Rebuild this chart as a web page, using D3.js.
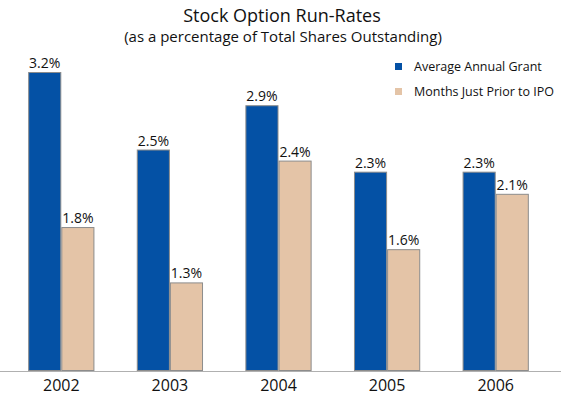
<!DOCTYPE html>
<html>
<head>
<meta charset="utf-8">
<script src="https://cdn.jsdelivr.net/npm/d3@7"></script>
<style>
  body { margin: 0; background: #fff; }
  svg { display: block; font-family: "Open Sans", sans-serif; }
</style>
</head>
<body>
<div id="chart"></div>
<script>
// data
const years = ['2002', '2003', '2004', '2005', '2006'];
const seriesNames = ['Average Annual Grant', 'Months Just Prior to IPO'];
const avgGrant = [3.2, 2.5, 2.9, 2.3, 2.3];
const priorIpo = [1.8, 1.3, 2.4, 1.6, 2.1];

const boxWidth = 561;
const boxHeight = 397;
const colors = ['#0451A5', '#E4C4A7'];

const svg = d3.select('#chart')
  .append('svg')
  .attr('width', boxWidth)
  .attr('height', boxHeight);

const baseY = 371;

// scales
const x0 = d3.scaleBand()
  .domain(years)
  .range([7, 550])
  .paddingInner(0.39)
  .paddingOuter(0.195);

const x1 = d3.scaleBand()
  .domain(seriesNames)
  .range([0, x0.bandwidth()]);

const y = d3.scaleLinear()
  .domain([0.5, 3.2])
  .range([baseY, 72]);

const rows = years.map((yr, i) => ({
  year: yr,
  vals: [
    { name: seriesNames[0], v: avgGrant[i] },
    { name: seriesNames[1], v: priorIpo[i] }
  ]
}));

// title
svg.append('text')
  .attr('x', 282).attr('y', 22)
  .attr('text-anchor', 'middle')
  .style('font-size', '18px')
  .attr('fill', '#111')
  .text('Stock Option Run-Rates');

svg.append('text')
  .attr('x', 283).attr('y', 42)
  .attr('text-anchor', 'middle')
  .style('font-size', '15px')
  .attr('fill', '#111')
  .text('(as a percentage of Total Shares Outstanding)');

// bars
const groups = svg.selectAll('g.grp')
  .data(rows)
  .enter()
  .append('g')
  .attr('class', 'grp')
  .attr('transform', d => `translate(${x0(d.year)}, 0)`);

groups.selectAll('rect')
  .data(d => d.vals)
  .enter()
  .append('rect')
  .attr('x', d => x1(d.name) + 0.5)
  .attr('y', d => y(d.v) + 0.5)
  .attr('width', x1.bandwidth() - 1)
  .attr('height', d => baseY - y(d.v) - 1)
  .attr('fill', (d, i) => colors[i])
  .attr('stroke', '#8c8c8c')
  .attr('stroke-width', 1);

groups.selectAll('text')
  .data(d => d.vals)
  .enter()
  .append('text')
  .attr('x', d => x1(d.name) + x1.bandwidth() / 2)
  .attr('y', d => y(d.v) - 4)
  .attr('text-anchor', 'middle')
  .style('font-size', '14px')
  .attr('fill', '#111')
  .text(d => d.v.toFixed(1) + '%');

// baseline
svg.append('line')
  .attr('x1', 0).attr('x2', boxWidth)
  .attr('y1', baseY + 0.5).attr('y2', baseY + 0.5)
  .attr('stroke', '#b0b0b0')
  .attr('stroke-width', 1);

// x axis labels
const xAxis = d3.axisBottom(x0).tickSize(0).tickPadding(9);
const xAxisGroup = svg.append('g')
  .attr('transform', `translate(0, ${baseY})`)
  .call(xAxis);
xAxisGroup.select('.domain').remove();
xAxisGroup.selectAll('text')
  .style('font-size', '16px')
  .style('font-family', '"Open Sans", sans-serif')
  .attr('fill', '#111');

// legend
const legend = svg.selectAll('g.leg')
  .data(seriesNames)
  .enter()
  .append('g')
  .attr('class', 'leg')
  .attr('transform', (d, i) => `translate(395, ${63 + i * 25})`);

legend.append('rect')
  .attr('width', 7).attr('height', 7)
  .attr('fill', (d, i) => colors[i]);

legend.append('text')
  .attr('x', 19).attr('y', 8)
  .style('font-size', '12.5px')
  .attr('fill', '#111')
  .text(d => d);
</script>
</body>
</html>
